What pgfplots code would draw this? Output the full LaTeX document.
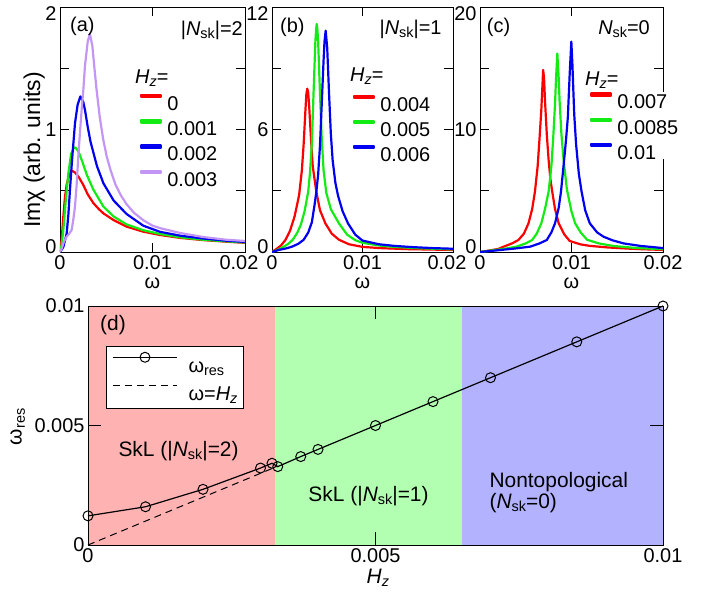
\documentclass[border=0pt]{standalone}
\usepackage{fontspec}
\setmainfont{Liberation Sans}
\usepackage{pgfplots}
\pgfplotsset{compat=1.18}

\definecolor{cred}{RGB}{250,0,0}
\definecolor{cgreen}{RGB}{20,235,20}
\definecolor{cblue}{RGB}{0,0,240}
\definecolor{cpurple}{RGB}{195,150,245}
\definecolor{bgred}{RGB}{255,178,178}
\definecolor{bggreen}{RGB}{178,255,178}
\definecolor{bgblue}{RGB}{178,178,255}

\newcommand{\fs}{\fontsize{20}{23}\selectfont}
\newcommand{\fb}{\fontsize{21}{24}\selectfont}
\newcommand{\subs}[1]{\raisebox{-0.28ex}{\fontsize{14.5}{14.5}\selectfont #1}}
\newcommand{\Nsk}{\textit{N}\subs{sk}}
\newcommand{\Hz}{\textit{H}\subs{\textit{z}}}
\newcommand{\wres}{ω\subs{res}}
\newcommand{\up}[1]{\raisebox{5bp}[\height][0pt]{#1}}
\newcommand{\dn}[1]{\raisebox{-7bp}[\height][0pt]{#1}}
\newcommand{\lt}[1]{\hspace*{-12bp}#1}

\tikzset{cv/.style={line width=2.2bp, line join=round}}

\pgfplotsset{
  myax/.style={scale only axis, font=\fs, tick label style={font=\fs},
    label style={font=\fs}, tick align=inside, tick pos=both,
    major tick length=9bp, minor tick length=9bp,
    axis line style={line width=0.8bp},
    every tick/.style={black,line width=0.8bp},
    scaled ticks=false},
  top/.style={myax, height=245bp, xmin=0, xmax=0.02,
    xtick={0,0.01,0.02},
    xlabel={ω},
    xlabel style={at={(axis description cs:0.5,0)}, anchor=base, yshift=-36bp},
    legend image code/.code={\fill[##1] (0bp,6.1bp) rectangle (20bp,8.3bp);},
    legend style={draw=none, fill=none, inner sep=0pt, row sep=8.6bp,
      column sep=5bp, font=\fs, nodes={inner sep=0pt, text height=14.3bp, text depth=0pt}},
    legend cell align=left},
}

\begin{document}
\begin{tikzpicture}
\path[use as bounding box] (0,0) rectangle (715bp,-595bp);

% ---------- (a) ----------
\begin{axis}[top, width=185bp, at={(60bp,-252bp)}, anchor=south west,
  xticklabels={0,0.01,\lt{0.02}},
  ymin=0, ymax=2, ytick={0,1,2}, yticklabels={\up{0},1,\dn{2}}, minor ytick={0.5,1.5},
  ylabel={Imχ (arb. units)},
  ylabel style={font=\fontsize{23}{26}\selectfont, at={(axis description cs:-0.107,0.416)}, anchor=base},
  legend style={at={(axis description cs:0.4324,0.6455)}, anchor=north west}]
\addplot[cv, cred] coordinates {(0,0) (0.00018,0.1) (0.00036,0.29) (0.00054,0.45) (0.00072,0.55) (0.001,0.63) (0.00126,0.665) (0.0016,0.65) (0.002,0.615) (0.0025,0.55) (0.003,0.47) (0.0036,0.4) (0.0042,0.35) (0.0047,0.315) (0.0058,0.26) (0.0072,0.207) (0.009,0.166) (0.0108,0.139) (0.013,0.115) (0.0155,0.097) (0.018,0.084) (0.02,0.075)};
\addlegendentry{0}
\addplot[cv, cgreen] coordinates {(0,0) (0.00018,0.06) (0.00036,0.18) (0.0006,0.4) (0.0009,0.64) (0.0012,0.8) (0.00151,0.855) (0.0017,0.85) (0.002,0.82) (0.0024,0.74) (0.0029,0.63) (0.0036,0.51) (0.0047,0.37) (0.0058,0.29) (0.0072,0.225) (0.009,0.178) (0.0108,0.147) (0.013,0.12) (0.0155,0.1) (0.018,0.087) (0.02,0.078)};
\addlegendentry{0.001}
\addplot[cv, cblue] coordinates {(0,0) (0.00036,0.04) (0.00072,0.15) (0.0009,0.3) (0.00108,0.51) (0.0013,0.75) (0.00162,1.05) (0.0019,1.2) (0.0022,1.27) (0.0025,1.23) (0.0027,1.16) (0.003,1.02) (0.0033,0.9) (0.004,0.7) (0.0047,0.56) (0.0058,0.42) (0.0072,0.31) (0.009,0.215) (0.0108,0.165) (0.013,0.133) (0.0155,0.11) (0.018,0.092) (0.02,0.082)};
\addlegendentry{0.002}
\addplot[cv, cpurple] coordinates {(0,0) (0.0002,0.03) (0.0004,0.08) (0.00072,0.125) (0.001,0.15) (0.00126,0.18) (0.00145,0.27) (0.00162,0.37) (0.0018,0.55) (0.00198,0.78) (0.00216,0.98) (0.00234,1.16) (0.00252,1.32) (0.0027,1.52) (0.003,1.72) (0.00324,1.78) (0.0035,1.68) (0.0037,1.52) (0.00396,1.32) (0.0043,1.1) (0.00467,0.92) (0.00505,0.78) (0.0055,0.66) (0.006,0.55) (0.0066,0.46) (0.0072,0.39) (0.008,0.32) (0.009,0.26) (0.01,0.215) (0.0108,0.195) (0.013,0.155) (0.0155,0.122) (0.018,0.1) (0.02,0.09)};
\addlegendentry{0.003}
\node[anchor=base west, inner sep=0pt] at (rel axis cs:0.054,0.898) {(a)};
\node[anchor=base east, inner sep=0pt] at (rel axis cs:0.989,0.882) {|\Nsk|=2};
\node[anchor=base west, inner sep=0pt] at (rel axis cs:0.405,0.686) {\Hz=};
\end{axis}

% ---------- (b) ----------
\begin{axis}[top, width=181bp, at={(272bp,-252bp)}, anchor=south west,
  xticklabels={0,0.01,\lt{0.02}},
  ymin=0, ymax=12, ytick={0,6,12}, yticklabels={\up{0},6,\dn{12}}, minor ytick={3,9},
  legend style={at={(axis description cs:0.4475,0.6435)}, anchor=north west}]
\addplot[cv, cred] coordinates {(0,0) (0.0005,0.15) (0.001,0.32) (0.0015,0.6) (0.002,1.05) (0.0025,1.75) (0.003,2.8) (0.0033,4.0) (0.0035,5.3) (0.0037,7.0) (0.0038,7.75) (0.0039,8.0) (0.004,7.8) (0.0041,7.2) (0.0043,5.6) (0.0045,4.2) (0.0049,2.95) (0.0053,2.05) (0.0059,1.4) (0.0066,0.9) (0.0074,0.6) (0.0085,0.38) (0.01,0.25) (0.012,0.19) (0.015,0.14) (0.0175,0.12) (0.02,0.1)};
\addlegendentry{0.004}
\addplot[cv, cgreen] coordinates {(0,0) (0.0006,0.1) (0.0013,0.26) (0.0018,0.4) (0.0023,0.6) (0.0028,0.95) (0.0032,1.35) (0.0036,2.0) (0.004,2.95) (0.0042,3.9) (0.0044,5.3) (0.0046,7.9) (0.0048,10.4) (0.0049,11.0) (0.00494,11.17) (0.005,11.0) (0.0051,10.3) (0.0053,7.8) (0.0055,5.5) (0.0057,4.0) (0.006,2.9) (0.0065,2.1) (0.0074,1.4) (0.0083,0.85) (0.0092,0.58) (0.01,0.45) (0.0118,0.32) (0.0135,0.25) (0.0155,0.2) (0.0178,0.16) (0.02,0.13)};
\addlegendentry{0.005}
\addplot[cv, cblue] coordinates {(0,0) (0.00074,0.1) (0.0015,0.17) (0.0022,0.26) (0.0029,0.4) (0.0035,0.6) (0.004,0.95) (0.0044,1.45) (0.0047,2.3) (0.0049,2.95) (0.0051,3.8) (0.0053,5.2) (0.0055,7.3) (0.0057,9.4) (0.0058,10.3) (0.00593,10.84) (0.0061,10.0) (0.0063,7.8) (0.0065,5.8) (0.0067,4.5) (0.007,3.4) (0.0073,2.75) (0.0078,2.0) (0.0084,1.4) (0.0092,0.85) (0.01,0.56) (0.0118,0.38) (0.0135,0.3) (0.0155,0.24) (0.0178,0.19) (0.02,0.16)};
\addlegendentry{0.006}
\node[anchor=base west, inner sep=0pt] at (rel axis cs:0.0442,0.894) {(b)};
\node[anchor=base east, inner sep=0pt] at (rel axis cs:0.9376,0.886) {|\Nsk|=1};
\node[anchor=base west, inner sep=0pt] at (rel axis cs:0.431,0.695) {\Hz=};
\end{axis}

% ---------- (c) ----------
\begin{axis}[top, width=183bp, at={(480bp,-252bp)}, anchor=south west,
  xticklabels={0,0.01,0.02},
  ymin=0, ymax=20, ytick={0,10,20}, yticklabels={\up{0},10,\dn{20}}, minor ytick={5,15},
  legend style={at={(axis description cs:0.601,0.6524)}, anchor=north west, fill=white}]
\addplot[cv, cred] coordinates {(0,0) (0.001,0.12) (0.002,0.25) (0.0026,0.44) (0.0035,0.7) (0.0042,0.98) (0.0048,1.5) (0.0053,2.34) (0.0057,3.5) (0.006,4.9) (0.0063,7.0) (0.0065,9.2) (0.0067,11.6) (0.0068,13.2) (0.0069,14.86) (0.007,14.2) (0.0071,12.4) (0.0073,9.6) (0.0075,7.5) (0.0077,5.9) (0.0079,4.9) (0.0082,3.5) (0.0086,2.34) (0.0092,1.45) (0.0098,0.9) (0.011,0.62) (0.012,0.5) (0.014,0.37) (0.0164,0.27) (0.018,0.22) (0.02,0.17)};
\addlegendentry{0.007}
\addplot[cv, cgreen] coordinates {(0,0) (0.0015,0.15) (0.003,0.3) (0.004,0.44) (0.005,0.7) (0.0057,0.98) (0.0062,1.5) (0.0067,2.34) (0.0071,3.5) (0.0075,4.93) (0.0078,7.0) (0.008,9.3) (0.0082,12.1) (0.0083,14.0) (0.00845,16.2) (0.0086,14.2) (0.0087,12.3) (0.0089,9.6) (0.0091,7.8) (0.0093,6.4) (0.0095,5.1) (0.01,3.3) (0.0104,2.34) (0.011,1.6) (0.0117,1.0) (0.013,0.7) (0.0146,0.49) (0.017,0.33) (0.02,0.23)};
\addlegendentry{0.0085}
\addplot[cv, cblue] coordinates {(0,0) (0.0022,0.16) (0.004,0.3) (0.0055,0.44) (0.0065,0.7) (0.0073,0.98) (0.0078,1.6) (0.0082,2.34) (0.0086,3.6) (0.00885,4.93) (0.0091,6.8) (0.0094,9.14) (0.0096,11.0) (0.0098,14.5) (0.00998,17.17) (0.0101,15.3) (0.0102,13.2) (0.0103,11.2) (0.0105,8.8) (0.0108,6.4) (0.0111,4.93) (0.0115,3.4) (0.012,2.34) (0.0128,1.6) (0.0135,1.25) (0.0145,0.95) (0.0157,0.7) (0.0175,0.5) (0.02,0.32)};
\addlegendentry{0.01}
\node[anchor=base west, inner sep=0pt] at (rel axis cs:0.0366,0.894) {(c)};
\node[anchor=base east, inner sep=0pt] at (rel axis cs:0.929,0.886) {\Nsk=0};
\node[anchor=base west, inner sep=0pt] at (rel axis cs:0.574,0.678) {\Hz=};
\end{axis}

% ---------- (d) ----------
\begin{axis}[myax, width=575bp, height=239bp, at={(88bp,-545bp)}, anchor=south west,
  xmin=0, xmax=0.01, ymin=0, ymax=0.01, axis on top, clip=false,
  major tick length=13bp,
  xtick={0,0.005,0.01}, xticklabels={0,0.005,0.01},
  ytick={0,0.005,0.01}, yticklabels={0,0.005,0.01},
  xlabel={\Hz}, xlabel style={font=\fb, at={(axis description cs:0.504,0)}, anchor=base, yshift=-38bp},
  ylabel={\wres}, ylabel style={font=\fb, at={(axis description cs:-0.1153,0.494)}, anchor=base},
  legend image code/.code={\draw[#1, mark repeat=2, mark phase=2] plot coordinates {(8bp,6bp) (40bp,6bp) (72bp,6bp)};},
  legend style={at={(axis description cs:0.0313,0.8326)}, anchor=north west,
    draw=black, fill=white, line width=0.8bp, inner xsep=6bp, inner ysep=4bp,
    row sep=2.6bp, column sep=11bp, font=\fs,
    nodes={inner sep=0pt, text height=21.7bp, text depth=4bp}},
  legend cell align=left]
\addplot[draw=none, fill=bgred, forget plot] coordinates {(0,0.01) (0.00325,0.01)} \closedcycle;
\addplot[draw=none, fill=bggreen, forget plot] coordinates {(0.00325,0.01) (0.0065,0.01)} \closedcycle;
\addplot[draw=none, fill=bgblue, forget plot] coordinates {(0.0065,0.01) (0.01,0.01)} \closedcycle;
\addplot[black, line width=1.2bp, mark=o, mark size=5bp, mark options={solid, line width=1bp}] coordinates {(0,0.00122) (0.001,0.0016) (0.002,0.00233) (0.003,0.00322) (0.0032,0.00342) (0.0033,0.00328) (0.0037,0.0037) (0.004,0.004) (0.005,0.005) (0.006,0.006) (0.007,0.007) (0.0085,0.0085) (0.01,0.01)};
\addlegendentry{\wres}
\addplot[black, line width=1bp, dash pattern=on 7bp off 5bp] coordinates {(0,0) (0.0033,0.0033)};
\addlegendentry{ω=\Hz}
\node[font=\fb, anchor=base west, inner sep=0pt] at (rel axis cs:0.0209,0.8996) {(d)};
\node[font=\fb, anchor=base west, inner sep=0pt] at (rel axis cs:0.0527,0.3695) {SkL (|\Nsk|=2)};
\node[font=\fb, anchor=base west, inner sep=0pt] at (rel axis cs:0.3831,0.181) {SkL (|\Nsk|=1)};
\node[font=\fb, anchor=base west, inner sep=0pt] at (rel axis cs:0.698,0.2414) {Nontopological};
\node[font=\fb, anchor=base west, inner sep=0pt] at (rel axis cs:0.698,0.1536) {(\Nsk=0)};
\end{axis}
\end{tikzpicture}
\end{document}
